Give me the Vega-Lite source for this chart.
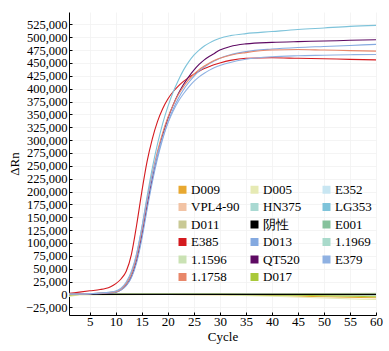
{
  "$schema": "https://vega.github.io/schema/vega-lite/v6.json",
  "autosize": "none",
  "width": 307,
  "height": 303,
  "padding": {"left": 69, "top": 12, "right": 13, "bottom": 36},
  "background": "white",
  "config": {
    "font": "Liberation Serif",
    "view": {"stroke": null},
    "axis": {"labelFont": "Liberation Serif", "titleFont": "Liberation Serif", "labelFontSize": 13, "titleFontSize": 13, "titleFontWeight": "normal", "labelColor": "black", "titleColor": "black", "domainColor": "black", "tickColor": "black", "gridColor": "#f1f1f1", "gridWidth": 0.8, "labelOverlap": false}
  },
  "data": {"values": [
    {"s":"D009","c":1,"v":-2000},{"s":"D009","c":3,"v":0},{"s":"D009","c":20,"v":0},{"s":"D009","c":30,"v":-500},{"s":"D009","c":40,"v":-2000},{"s":"D009","c":50,"v":-4500},{"s":"D009","c":60,"v":-6500},
    {"s":"D005","c":1,"v":-4000},{"s":"D005","c":3,"v":-1000},{"s":"D005","c":20,"v":0},{"s":"D005","c":30,"v":-1000},{"s":"D005","c":40,"v":-3500},{"s":"D005","c":50,"v":-7000},{"s":"D005","c":60,"v":-10000},
    {"s":"E352","c":1,"v":0},{"s":"E352","c":20,"v":0},{"s":"E352","c":40,"v":500},{"s":"E352","c":60,"v":1500},
    {"s":"VPL4-90","c":1,"v":0},{"s":"VPL4-90","c":30,"v":0},{"s":"VPL4-90","c":45,"v":500},{"s":"VPL4-90","c":60,"v":1000},
    {"s":"HN375","c":1,"v":0},{"s":"HN375","c":30,"v":0},{"s":"HN375","c":45,"v":-500},{"s":"HN375","c":60,"v":-1500},
    {"s":"D011","c":1,"v":-1000},{"s":"D011","c":3,"v":0},{"s":"D011","c":30,"v":500},{"s":"D011","c":45,"v":-500},{"s":"D011","c":60,"v":-2500},
    {"s":"E001","c":1,"v":0},{"s":"E001","c":30,"v":0},{"s":"E001","c":60,"v":500},
    {"s":"1.1969","c":1,"v":0},{"s":"1.1969","c":30,"v":0},{"s":"1.1969","c":60,"v":-1000},
    {"s":"1.1596","c":1,"v":0},{"s":"1.1596","c":30,"v":500},{"s":"1.1596","c":60,"v":2000},
    {"s":"D017","c":1,"v":-1000},{"s":"D017","c":3,"v":0},{"s":"D017","c":30,"v":0},{"s":"D017","c":45,"v":-1500},{"s":"D017","c":60,"v":-4500},
    {"s":"阴性","c":1,"v":0},{"s":"阴性","c":30,"v":0},{"s":"阴性","c":60,"v":0},

    {"s":"E385","c":1,"v":2000},{"s":"E385","c":3,"v":4500},{"s":"E385","c":5,"v":7000},{"s":"E385","c":7,"v":9500},{"s":"E385","c":8,"v":11500},{"s":"E385","c":9,"v":15000},{"s":"E385","c":10,"v":21000},{"s":"E385","c":11,"v":30000},{"s":"E385","c":12,"v":45000},{"s":"E385","c":13,"v":78000},{"s":"E385","c":14,"v":135000},{"s":"E385","c":15,"v":200000},{"s":"E385","c":16,"v":258000},{"s":"E385","c":17,"v":302000},{"s":"E385","c":18,"v":336000},{"s":"E385","c":19,"v":361000},{"s":"E385","c":20,"v":380000},{"s":"E385","c":21,"v":394000},{"s":"E385","c":22,"v":405000},{"s":"E385","c":23,"v":414000},{"s":"E385","c":24,"v":422000},{"s":"E385","c":25,"v":428000},{"s":"E385","c":26,"v":434000},{"s":"E385","c":27,"v":439000},{"s":"E385","c":28,"v":443000},{"s":"E385","c":29,"v":447000},{"s":"E385","c":30,"v":450000},{"s":"E385","c":32,"v":455000},{"s":"E385","c":35,"v":459000},{"s":"E385","c":40,"v":460000},{"s":"E385","c":45,"v":459000},{"s":"E385","c":50,"v":458000},{"s":"E385","c":55,"v":457000},{"s":"E385","c":60,"v":456000},

    {"s":"LG353","c":1,"v":500},{"s":"LG353","c":5,"v":1500},{"s":"LG353","c":8,"v":3000},{"s":"LG353","c":10,"v":6000},{"s":"LG353","c":11,"v":11000},{"s":"LG353","c":12,"v":22000},{"s":"LG353","c":13,"v":42000},{"s":"LG353","c":14,"v":78000},{"s":"LG353","c":15,"v":130000},{"s":"LG353","c":16,"v":190000},{"s":"LG353","c":17,"v":245000},{"s":"LG353","c":18,"v":292000},{"s":"LG353","c":19,"v":332000},{"s":"LG353","c":20,"v":365000},{"s":"LG353","c":21,"v":393000},{"s":"LG353","c":22,"v":416000},{"s":"LG353","c":23,"v":436000},{"s":"LG353","c":24,"v":452000},{"s":"LG353","c":25,"v":465000},{"s":"LG353","c":26,"v":475000},{"s":"LG353","c":27,"v":483000},{"s":"LG353","c":28,"v":489000},{"s":"LG353","c":29,"v":494000},{"s":"LG353","c":30,"v":498000},{"s":"LG353","c":32,"v":503000},{"s":"LG353","c":35,"v":507000},{"s":"LG353","c":40,"v":511000},{"s":"LG353","c":45,"v":515000},{"s":"LG353","c":50,"v":518000},{"s":"LG353","c":55,"v":521000},{"s":"LG353","c":60,"v":523000},

    {"s":"QT520","c":1,"v":0},{"s":"QT520","c":5,"v":1000},{"s":"QT520","c":8,"v":2500},{"s":"QT520","c":10,"v":4500},{"s":"QT520","c":11,"v":9000},{"s":"QT520","c":12,"v":18000},{"s":"QT520","c":13,"v":35000},{"s":"QT520","c":14,"v":66000},{"s":"QT520","c":15,"v":115000},{"s":"QT520","c":16,"v":172000},{"s":"QT520","c":17,"v":226000},{"s":"QT520","c":18,"v":272000},{"s":"QT520","c":19,"v":310000},{"s":"QT520","c":20,"v":342000},{"s":"QT520","c":21,"v":368000},{"s":"QT520","c":22,"v":390000},{"s":"QT520","c":23,"v":408000},{"s":"QT520","c":24,"v":423000},{"s":"QT520","c":25,"v":436000},{"s":"QT520","c":26,"v":447000},{"s":"QT520","c":27,"v":456000},{"s":"QT520","c":28,"v":463000},{"s":"QT520","c":29,"v":469000},{"s":"QT520","c":30,"v":475000},{"s":"QT520","c":32,"v":482000},{"s":"QT520","c":35,"v":487000},{"s":"QT520","c":40,"v":490000},{"s":"QT520","c":45,"v":491500},{"s":"QT520","c":50,"v":492500},{"s":"QT520","c":55,"v":494000},{"s":"QT520","c":60,"v":495000},

    {"s":"D013","c":1,"v":0},{"s":"D013","c":5,"v":1000},{"s":"D013","c":8,"v":2500},{"s":"D013","c":10,"v":4500},{"s":"D013","c":11,"v":8500},{"s":"D013","c":12,"v":17000},{"s":"D013","c":13,"v":33000},{"s":"D013","c":14,"v":62000},{"s":"D013","c":15,"v":108000},{"s":"D013","c":16,"v":165000},{"s":"D013","c":17,"v":218000},{"s":"D013","c":18,"v":264000},{"s":"D013","c":19,"v":302000},{"s":"D013","c":20,"v":334000},{"s":"D013","c":21,"v":360000},{"s":"D013","c":22,"v":381000},{"s":"D013","c":23,"v":398000},{"s":"D013","c":24,"v":412000},{"s":"D013","c":25,"v":424000},{"s":"D013","c":26,"v":434000},{"s":"D013","c":27,"v":442000},{"s":"D013","c":28,"v":449000},{"s":"D013","c":29,"v":454000},{"s":"D013","c":30,"v":459000},{"s":"D013","c":32,"v":466000},{"s":"D013","c":35,"v":472000},{"s":"D013","c":40,"v":477000},{"s":"D013","c":45,"v":480000},{"s":"D013","c":50,"v":482000},{"s":"D013","c":55,"v":484000},{"s":"D013","c":60,"v":486000},

    {"s":"1.1758","c":1,"v":500},{"s":"1.1758","c":5,"v":1500},{"s":"1.1758","c":8,"v":3000},{"s":"1.1758","c":10,"v":5500},{"s":"1.1758","c":11,"v":10500},{"s":"1.1758","c":12,"v":21000},{"s":"1.1758","c":13,"v":40000},{"s":"1.1758","c":14,"v":74000},{"s":"1.1758","c":15,"v":124000},{"s":"1.1758","c":16,"v":182000},{"s":"1.1758","c":17,"v":234000},{"s":"1.1758","c":18,"v":278000},{"s":"1.1758","c":19,"v":314000},{"s":"1.1758","c":20,"v":344000},{"s":"1.1758","c":21,"v":368000},{"s":"1.1758","c":22,"v":388000},{"s":"1.1758","c":23,"v":404000},{"s":"1.1758","c":24,"v":417000},{"s":"1.1758","c":25,"v":428000},{"s":"1.1758","c":26,"v":437000},{"s":"1.1758","c":27,"v":444000},{"s":"1.1758","c":28,"v":450000},{"s":"1.1758","c":29,"v":455000},{"s":"1.1758","c":30,"v":459000},{"s":"1.1758","c":32,"v":465000},{"s":"1.1758","c":35,"v":470000},{"s":"1.1758","c":40,"v":475000},{"s":"1.1758","c":45,"v":476000},{"s":"1.1758","c":50,"v":475000},{"s":"1.1758","c":55,"v":474000},{"s":"1.1758","c":60,"v":473000},

    {"s":"E379","c":1,"v":500},{"s":"E379","c":5,"v":1500},{"s":"E379","c":8,"v":3500},{"s":"E379","c":10,"v":6500},{"s":"E379","c":11,"v":12000},{"s":"E379","c":12,"v":24000},{"s":"E379","c":13,"v":45000},{"s":"E379","c":14,"v":80000},{"s":"E379","c":15,"v":130000},{"s":"E379","c":16,"v":185000},{"s":"E379","c":17,"v":232000},{"s":"E379","c":18,"v":272000},{"s":"E379","c":19,"v":305000},{"s":"E379","c":20,"v":333000},{"s":"E379","c":21,"v":356000},{"s":"E379","c":22,"v":375000},{"s":"E379","c":23,"v":390000},{"s":"E379","c":24,"v":403000},{"s":"E379","c":25,"v":414000},{"s":"E379","c":26,"v":423000},{"s":"E379","c":27,"v":430000},{"s":"E379","c":28,"v":436000},{"s":"E379","c":29,"v":441000},{"s":"E379","c":30,"v":445000},{"s":"E379","c":32,"v":451000},{"s":"E379","c":35,"v":457000},{"s":"E379","c":40,"v":462000},{"s":"E379","c":45,"v":464000},{"s":"E379","c":50,"v":465000},{"s":"E379","c":55,"v":466000},{"s":"E379","c":60,"v":466500}
  ]},
  "mark": {"type": "line", "strokeWidth": 1.1, "interpolate": "monotone", "clip": true},
  "encoding": {
    "x": {"field": "c", "type": "quantitative", "scale": {"domain": [1, 60], "nice": false, "zero": false},
      "axis": {"title": "Cycle", "values": [5,10,15,20,25,30,35,40,45,50,55,60], "tickSize": -3, "labelPadding": 3, "titlePadding": 2, "grid": true, "labelFlush": false, "labelFont": "Liberation Serif", "titleFont": "Liberation Serif"}},
    "y": {"field": "v", "type": "quantitative", "scale": {"domain": [-40000, 549000], "nice": false, "zero": false},
      "axis": {"title": "ΔRn", "format": ",d", "values": [-25000,0,25000,50000,75000,100000,125000,150000,175000,200000,225000,250000,275000,300000,325000,350000,375000,400000,425000,450000,475000,500000,525000], "tickSize": -3, "labelPadding": 5, "titlePadding": 4, "grid": true, "labelFontSize": 12.5, "labelFont": "Liberation Serif", "titleFont": "Liberation Serif"}},
    "color": {"field": "s", "type": "nominal",
      "scale": {"domain": ["D009","VPL4-90","D011","E385","1.1596","1.1758","D005","HN375","阴性","D013","QT520","D017","E352","LG353","E001","1.1969","E379"],
        "range": ["#E8A830","#F2C3A4","#C9C995","#D41A1F","#CAE2B4","#E8876A","#E6EAB4","#A9D9D2","#000000","#84A9E0","#5E0A63","#A9C93A","#C8E6F2","#7EC3DA","#86C29C","#A9DACB","#8FB1E2"]},
      "legend": {"title": null, "orient": "none", "legendX": 107, "legendY": 171, "columns": 3, "columnPadding": 8, "rowPadding": 3.5, "gridAlign": "all", "padding": 0,
        "symbolType": "square", "symbolSize": 64, "symbolStrokeWidth": 0, "labelFont": "Liberation Serif", "labelFontSize": 13, "labelColor": "black", "labelOffset": 2, "labelLimit": 200,
        "encode": {"symbols": {"update": {"fill": {"scale": "color", "field": "value"}, "stroke": {"value": "transparent"}, "opacity": {"value": 1}}}}}
    }
  }
}
